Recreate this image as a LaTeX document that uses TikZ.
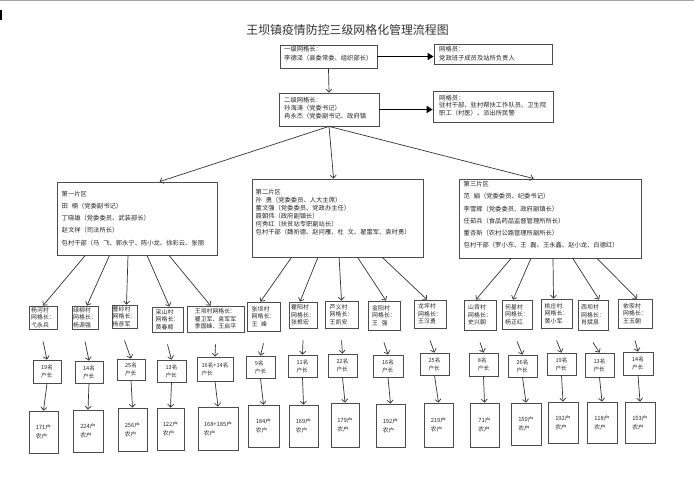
\documentclass[tikz,border=0pt]{standalone}
\usepackage{fontspec}
\setmainfont{Noto Sans CJK SC}
\usetikzlibrary{arrows.meta}
\tikzset{
  box/.style={draw=black!70, line width=0.8pt, inner sep=0pt, align=left, text=black!85},
  txt/.style={align=left, inner sep=0pt, text=black!85, font=\fontsize{6.3}{8}\selectfont},
  vfont/.style={font=\fontsize{5.9}{7.4}\selectfont},
  cfont/.style={font=\fontsize{5.6}{8}\selectfont},
  bfont/.style={font=\fontsize{5.8}{9}\selectfont},
  arr/.style={draw=black!80, line width=0.7pt, -{Straight Barb[length=3pt,width=6pt]}},
  bigarr/.style={draw=black, line width=1.6pt, -{Triangle[length=6pt,width=7pt]}}
}
\newcommand\mybox[7]{\node[box,#7, minimum width={(#4-#2)*1pt}, minimum height={(#5-#3)*1pt}] (#1) at ({(#2+#4)/2},{(#3+#5)/2}) {#6};}
\begin{document}
\begin{tikzpicture}[x=1pt,y=-1pt]
\useasboundingbox (0,0) rectangle (694,493);
\fill[white] (0,0) rectangle (694,493);
\draw[black!35, line width=1pt] (0,0.5) -- (694,0.5);
\fill[black] (0,10) rectangle (1.6,20);

\node[font=\fontsize{11.9}{14}\selectfont, text=black!80] (title) at (347.5,30) {王坝镇疫情防控三级网格化管理流程图};

% top level
\mybox{l1}{280}{45}{377}{68}{}{}
\node[txt, font=\fontsize{6.3}{9}\selectfont, anchor=west] (l1t) at (284,53.8) {一级网格长：\\李德泽（县委常委、组织部长）};
\mybox{r1}{434}{44}{552}{64}{}{}
\node[txt, font=\fontsize{6.3}{9}\selectfont, anchor=west] (r1t) at (439,53.8) {网格员：\\党政班子成员及站所负责人};
\mybox{l2}{279}{93}{379}{126}{}{}
\node[txt, font=\fontsize{6.3}{8}\selectfont, anchor=west] (l2t) at (284,108) {二级网格长：\\孙海涛（党委书记）\\冉永杰（党委副书记、政府镇};
\mybox{r2}{433}{91}{553}{122}{}{}
\node[txt, font=\fontsize{6.3}{7.8}\selectfont, anchor=west] (r2t) at (439,105.5) {网格员：\\驻村干部、驻村帮扶工作队员、卫生院\\职工（村医）、派出所民警};

\draw[bigarr] (l1.east) -- (l1.east -| r1.west);
\draw[bigarr] (l2.east) -- (l2.east -| r2.west);
\draw[arr] (l1.south) -- (l2.north);

% sections
\mybox{s1}{57}{182}{217}{255}{}{}
\node[txt, font=\fontsize{6.3}{12.2}\selectfont, anchor=west] (s1t) at (61.5,218.4) {第一片区\\田\hspace{0.6em}楠（党委副书记）\\丁晓雄（党委委员、武装部长）\\赵文祥（司法所长）\\包村干部（马\hspace{0.6em}飞、郭永宁、陈小龙、徐彩云、张丽};
\mybox{s2}{252}{179}{423}{257}{}{}
\node[txt, font=\fontsize{6.3}{8.1}\selectfont, anchor=west] (s2t) at (255.5,212) {第二片区\\孙\hspace{0.6em}勇（党委委员、人大主席）\\董文强（党委委员、党政办主任）\\聂朝伟（政府副镇长）\\何秀红（扶贫站专职副站长）\\包村干部（魏祈德、赵问雁、杜\hspace{0.6em}文、翟雷军、袁时勇）};
\mybox{s3}{459}{179}{641}{258}{}{}
\node[txt, font=\fontsize{6.3}{12.1}\selectfont, anchor=west] (s3t) at (463.5,214.7) {第三片区\\范\hspace{0.6em}娟（党委委员、纪委书记）\\李雪辉（党委委员、政府副镇长）\\任茹兵（食品药品监督管理所所长）\\董杏新（农村公路管理所副所长）\\包村干部（罗小东、王\hspace{0.6em}磊、王永鑫、赵小龙、白德红）};

\draw[arr] (l2.south) -- ([xshift=103pt]s1.north west);
\draw[arr] (l2.south) -- ([xshift=82pt]s2.north west);
\draw[arr] (l2.south) -- ([xshift=75pt]s3.north west);

% villages
\mybox{v11}{29}{306}{57}{329}{杨河村\\网格长：\\弋永兵}{vfont}
\mybox{v12}{72}{306}{98}{329}{绿柳村\\网格长：\\杨源强}{vfont}
\mybox{v13}{112}{305}{137}{328}{曹岭村\\网格长：\\杨彦军}{vfont}
\mybox{v14}{152}{307}{183}{332}{采山村\\网格长：\\黄春顺}{vfont}
\mybox{v15}{187}{306}{244}{332}{王坝村网格长：\\瞿卫军、袁军军\\季国峰、王启平}{vfont}
\mybox{v21}{247}{302}{280}{331}{张坝村\\网格长：\\王\hspace{0.6em}峰}{vfont}
\mybox{v22}{289}{302}{317}{328}{瞿阳村\\网格长：\\张根宏}{vfont}
\mybox{v23}{325}{301}{358}{328}{芦义村\\网格长：\\王凯安}{vfont}
\mybox{v24}{368}{301}{400}{330}{金阳村\\网格长：\\王\hspace{0.6em}强}{vfont}
\mybox{v25}{414}{300}{446}{328}{龙坪村\\网格长：\\王汉勇}{vfont}
\mybox{v31}{464}{300}{496}{330}{山背村\\网格长：\\史兴朝}{vfont}
\mybox{v32}{502}{300}{532}{329}{何星村\\网格长：\\杨正红}{vfont}
\mybox{v33}{541}{299}{572}{328}{桃庄村\\网格长：\\黄小军}{vfont}
\mybox{v34}{578}{300}{608}{330}{西坝村\\网格长：\\肖斌泉}{vfont}
\mybox{v35}{618}{299}{652}{328}{依家村\\网格长：\\王玉朝}{vfont}

\draw[arr] ([xshift=28.7pt]s1.south west) -- (v11.north);
\draw[arr] ([xshift=52.9pt]s1.south west) -- ([xshift=2pt]v12.north);
\draw[arr] ([xshift=71.4pt]s1.south west) -- ([xshift=2pt]v13.north);
\draw[arr] ([xshift=90.4pt]s1.south west) -- ([xshift=2pt]v14.north);
\draw[arr] ([xshift=112.4pt]s1.south west) -- ([xshift=-5pt]v15.north);
\draw[arr] ([xshift=39.9pt]s2.south west) -- ([xshift=-3pt]v21.north);
\draw[arr] ([xshift=66.3pt]s2.south west) -- ([xshift=-3pt]v22.north);
\draw[arr] ([xshift=87.5pt]s2.south west) -- (v23.north);
\draw[arr] ([xshift=106pt]s2.south west) -- ([xshift=2pt]v24.north);
\draw[arr] ([xshift=130.7pt]s2.south west) -- ([xshift=-3pt]v25.north);
\draw[arr] ([xshift=52.5pt]s3.south west) -- ([xshift=-4pt]v31.north);
\draw[arr] ([xshift=72.3pt]s3.south west) -- ([xshift=-4pt]v32.north);
\draw[arr] ([xshift=94.4pt]s3.south west) -- ([xshift=-3pt]v33.north);
\draw[arr] ([xshift=114.2pt]s3.south west) -- ([xshift=6pt]v34.north);
\draw[arr] ([xshift=138.4pt]s3.south west) -- ([xshift=2pt]v35.north);

% counts
\mybox{c11}{33}{360}{61}{383}{19名\\户长}{cfont}
\mybox{c12}{75}{361}{103}{383}{14名\\户长}{cfont}
\mybox{c13}{117}{359}{145}{380}{25名\\户长}{cfont}
\mybox{c14}{157}{360}{186}{382}{13名\\户长}{cfont}
\mybox{c15}{197}{357}{233}{381}{16名+14名\\户长}{cfont}
\mybox{c21}{246}{356}{275}{378}{9名\\户长}{cfont}
\mybox{c22}{288}{355}{317}{377}{11名\\户长}{cfont}
\mybox{c23}{328}{354}{357}{377}{22名\\户长}{cfont}
\mybox{c24}{373}{355}{403}{377}{16名\\户长}{cfont}
\mybox{c25}{420}{353}{449}{375}{25名\\户长}{cfont}
\mybox{c31}{469}{353}{498}{376}{8名\\户长}{cfont}
\mybox{c32}{508}{355}{537}{377}{26名\\户长}{cfont}
\mybox{c33}{547}{353}{576}{375}{19名\\户长}{cfont}
\mybox{c34}{585}{353}{614}{377}{13名\\户长}{cfont}
\mybox{c35}{623}{352}{653}{375}{14名\\户长}{cfont}

% bottom
\mybox{b11}{29}{411}{58}{453}{171户\\农户}{bfont}
\mybox{b12}{73}{410}{103}{452}{224户\\农户}{bfont}
\mybox{b13}{118}{408}{147}{451}{256户\\农户}{bfont}
\mybox{b14}{157}{408}{184}{450}{122户\\农户}{bfont}
\mybox{b15}{198}{407}{238}{450}{168+185户\\农户}{bfont}
\mybox{b21}{248}{405}{279}{447}{184户\\农户}{bfont}
\mybox{b22}{289}{405}{318}{447}{169户\\农户}{bfont}
\mybox{b23}{331}{403}{359}{447}{179户\\农户}{bfont}
\mybox{b24}{376}{404}{405}{447}{192户\\农户}{bfont}
\mybox{b25}{424}{403}{453}{447}{219户\\农户}{bfont}
\mybox{b31}{470}{403}{499}{447}{71户\\农户}{bfont}
\mybox{b32}{511}{403}{541}{445}{150户\\农户}{bfont}
\mybox{b33}{548}{402}{578}{443}{192户\\农户}{bfont}
\mybox{b34}{587}{402}{617}{443}{118户\\农户}{bfont}
\mybox{b35}{625}{402}{655}{443}{153户\\农户}{bfont}

\foreach \g in {1,2,3}{
  \foreach \i in {1,...,5}{
    \draw[arr] ([yshift=-12pt]v\g\i.south) -- (c\g\i.north);
    \draw[arr] (c\g\i.south) -- (b\g\i.north);
  }
}
\end{tikzpicture}
\end{document}
